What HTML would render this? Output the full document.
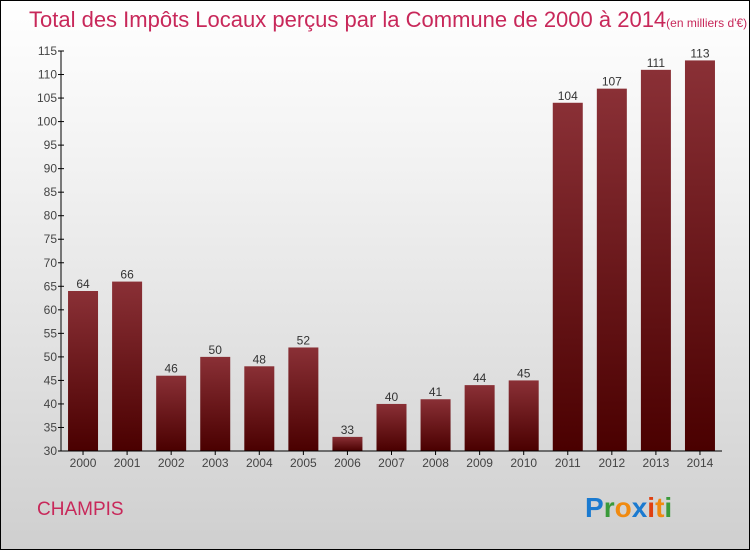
<!DOCTYPE html>
<html><head><meta charset="utf-8"><style>
body{margin:0}
#c{width:750px;height:550px;position:relative;box-sizing:border-box;border:1px solid #000;background:linear-gradient(#fff,#f2f2f2 30%,#cfcfcf);font-family:"Liberation Sans",sans-serif;overflow:hidden}
svg{position:absolute;left:0;top:0}
</style></head><body>
<div id="c">
<svg id="s" width="750" height="550">
<defs><linearGradient id="g" x1="0" y1="0" x2="0" y2="1"><stop offset="0" stop-color="#8a3036"/><stop offset="1" stop-color="#4a0000"/></linearGradient></defs>
<text x="28" y="26" font-size="22" fill="#c8285a">Total des Impôts Locaux perçus par la Commune de 2000 à 2014<tspan font-size="12">(en milliers d'€)</tspan></text>
<text x="36" y="514" font-size="19" fill="#c8285a">CHAMPIS</text>
<text x="584" y="516" font-size="28" font-weight="bold"><tspan fill="#1a7ad0">P</tspan><tspan fill="#3a9a3a">r</tspan><tspan fill="#f08a10">o</tspan><tspan fill="#1a7ad0">x</tspan><tspan fill="#e04010">i</tspan><tspan fill="#f08a10">t</tspan><tspan fill="#3a9a3a">i</tspan></text>
</svg>
</div>
<script>
const categories=["2000","2001","2002","2003","2004","2005","2006","2007","2008","2009","2010","2011","2012","2013","2014"];
const values=[64,66,46,50,48,52,33,40,41,44,45,104,107,111,113];
const yTicks=[30,35,40,45,50,55,60,65,70,75,80,85,90,95,100,105,110,115];
const s=document.getElementById('s');
const NS='http://www.w3.org/2000/svg';
const x0=60,x1=721,yMin=30,yMax=115,py0=450,py1=50;
const y=v=>py0-(v-yMin)/(yMax-yMin)*(py0-py1);
const step=(x1-x0)/categories.length;
const xc=i=>x0+step*(i+0.5);
function mk(t,a){const e=document.createElementNS(NS,t);for(const k in a)e.setAttribute(k,a[k]);s.appendChild(e);return e;}
yTicks.forEach(v=>{
 const l=mk('line',{x1:x0-3,x2:x0+3,y1:y(v),y2:y(v),stroke:'#000'});
 
 
 const t=mk('text',{x:x0-4,y:y(v)+4,'text-anchor':'end','font-size':12,fill:'#444'});
 t.textContent=v;
 
 
});
categories.forEach((c,i)=>{
 const w=30,v=values[i];
 const r=mk('rect',{x:xc(i)-w/2,y:y(v),width:w,height:py0-y(v),fill:'url(#g)'});
 
 
 const t=mk('text',{x:xc(i),y:y(v)-3,'text-anchor':'middle','font-size':12,fill:'#333'});
 t.textContent=v;
 
 
 const k=mk('line',{x1:xc(i),x2:xc(i),y1:py0,y2:py0+4,stroke:'#000'});
 
 
 const xl=mk('text',{x:xc(i),y:466,'text-anchor':'middle','font-size':12,fill:'#444'});
 xl.textContent=c;
 
 
});
const ya=mk('line',{x1:x0,x2:x0,y1:py1,y2:py0,stroke:'#000'});


const xa=mk('line',{x1:x0,x2:x1,y1:py0,y2:py0,stroke:'#000'});


</script>
</body></html>
